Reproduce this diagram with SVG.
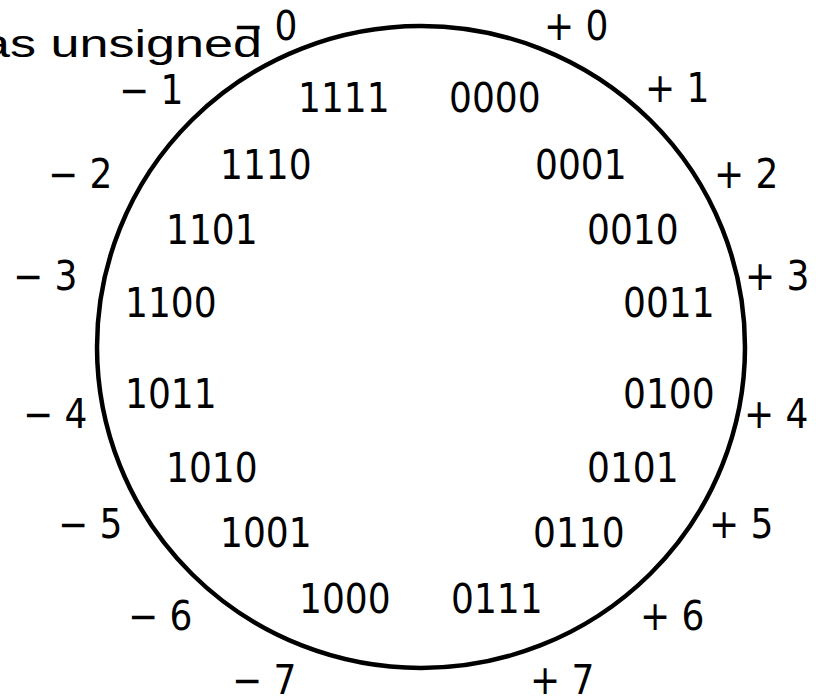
<svg xmlns="http://www.w3.org/2000/svg" width="816" height="696" viewBox="0 0 816 696">
<style>
.n{font-family:"DejaVu Sans Condensed","DejaVu Sans",sans-serif;font-stretch:condensed;font-size:40px;fill:#000}
.t{font-family:"Liberation Sans",Arial,sans-serif;font-size:38px;fill:#000}
</style>
<rect width="816" height="696" fill="#fff"/>
<text class="t" x="-19" y="57" textLength="281" lengthAdjust="spacingAndGlyphs">as unsigned</text>
<g id="wheel"><ellipse cx="421" cy="347" rx="324" ry="321" fill="none" stroke="#000" stroke-width="4.5"/></g>
<g id="codes" class="n">
<text x="298" y="112">1111</text>
<text x="449" y="112">0000</text>
<text x="220" y="179">1110</text>
<text x="535" y="179">0001</text>
<text x="166" y="244">1101</text>
<text x="587" y="244">0010</text>
<text x="125" y="317">1100</text>
<text x="623" y="317">0011</text>
<text x="125" y="408">1011</text>
<text x="623" y="408">0100</text>
<text x="166" y="482">1010</text>
<text x="587" y="482">0101</text>
<text x="220" y="547">1001</text>
<text x="533" y="547">0110</text>
<text x="299" y="613">1000</text>
<text x="451" y="613">0111</text>
</g>
<g id="values" class="n">
<text x="233" y="40">− 0</text>
<text x="544" y="40">+ 0</text>
<text x="119" y="104">− 1</text>
<text x="645" y="102">+ 1</text>
<text x="48" y="188">− 2</text>
<text x="714" y="188">+ 2</text>
<text x="13" y="290">− 3</text>
<text x="745" y="290">+ 3</text>
<text x="23" y="428">− 4</text>
<text x="744" y="428">+ 4</text>
<text x="58" y="538">− 5</text>
<text x="709" y="538">+ 5</text>
<text x="128" y="630">− 6</text>
<text x="640" y="630">+ 6</text>
<text x="232" y="694">− 7</text>
<text x="530" y="694">+ 7</text>
</g>
</svg>
